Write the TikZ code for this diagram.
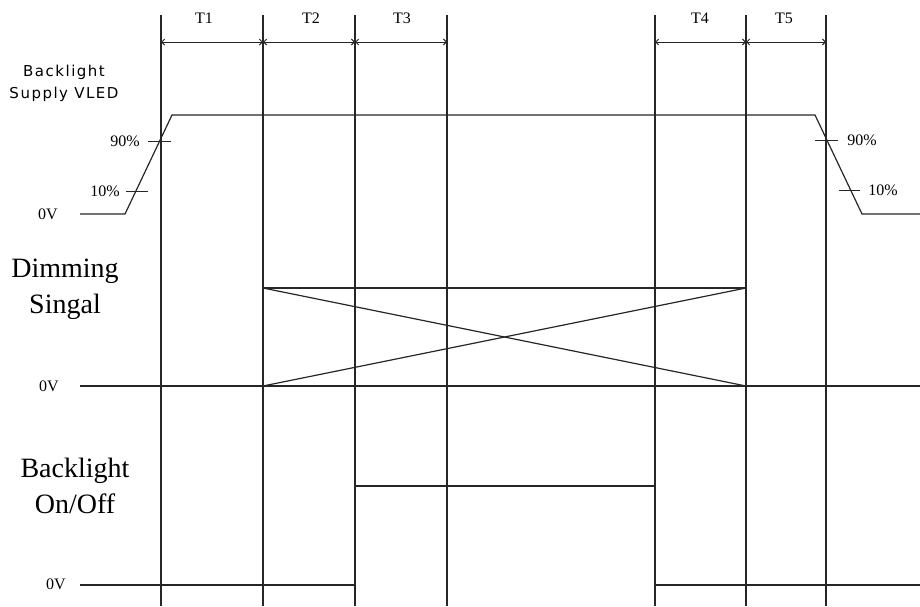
\documentclass[tikz,border=0pt]{standalone}
\usepackage{fontspec}
\setmainfont{Liberation Serif}
\newfontfamily\supplyfont[LetterSpace=10]{DejaVu Sans}
\usepackage{tikz}
\usetikzlibrary{arrows.meta, positioning, calc}
\tikzset{
  wave/.style={line width=1.2pt, color=black!85},
  timeline/.style={line width=1.2pt, color=black!85},
  pcttick/.style={line width=1pt, color=black!85},
  dimarrow/.style={{Straight Barb[length=3pt,width=6pt]}-{Straight Barb[length=3pt,width=6pt]},
    line width=1pt, color=black!85},
  tlabel/.style={font=\fontsize{16}{18}\selectfont, inner sep=0pt},
  levellabel/.style={font=\fontsize{16}{18}\selectfont, inner sep=0pt},
  siglabel/.style={align=center, font=\fontsize{28}{36}\selectfont, inner sep=0pt},
  supplylabel/.style={align=center, font=\supplyfont\fontsize{15}{22}\selectfont, inner sep=0pt}
}

\begin{document}
\begin{tikzpicture}[x=1pt, y=-1pt]
  \useasboundingbox (0,0) rectangle (920,606);

  % Time marks
  \foreach \x in {161,263,355,447,655,746,826}
    \draw[timeline] (\x,15) -- (\x,606);

  % Interval arrows and names
  \foreach \a/\b/\m/\t in {161/263/204/T1, 263/355/311/T2, 355/447/402/T3,
                           655/746/700/T4, 746/826/784/T5} {
    \draw[dimarrow] (\a,42) -- (\b,42);
    \node[tlabel] (lbl\t) at (\m,18) {\t};
  }

  % Backlight supply VLED
  \node[supplylabel] (supply) at (64,83) {Backlight\\Supply VLED};
  \draw[wave] (80,214) -- (125,214) -- (172,115) -- (815,115) -- (862,214) -- (920,214);
  \draw[pcttick] (148,141) -- (171,141);
  \draw[pcttick] (126,191) -- (148,191);
  \draw[pcttick] (815,140) -- (838,140);
  \draw[pcttick] (839,190) -- (860,190);
  \node[levellabel] (upL) at (125,141) {90\%};
  \node[levellabel] (loL) at (105,191) {10\%};
  \node[levellabel] (upR) at (862,140) {90\%};
  \node[levellabel] (loR) at (883,190) {10\%};
  \node[levellabel] (zeroA) at (48,214) {0V};

  % Dimming signal
  \node[siglabel] (dim) at (65,289) {Dimming\\Singal};
  \node[levellabel] (zeroB) at (49,386) {0V};
  \draw[wave] (80,386) -- (920,386);
  \draw[wave] (263,288) -- (746,288);
  \draw[wave] (263,288) -- (746,386);
  \draw[wave] (263,386) -- (746,288);

  % Backlight on/off
  \node[siglabel] (onoff) at (75,486) {Backlight\\On/Off};
  \node[levellabel] (zeroC) at (56,584) {0V};
  \draw[wave] (80,585) -- (355,585) -- (355,486) -- (655,486) -- (655,585) -- (920,585);
\end{tikzpicture}
\end{document}
